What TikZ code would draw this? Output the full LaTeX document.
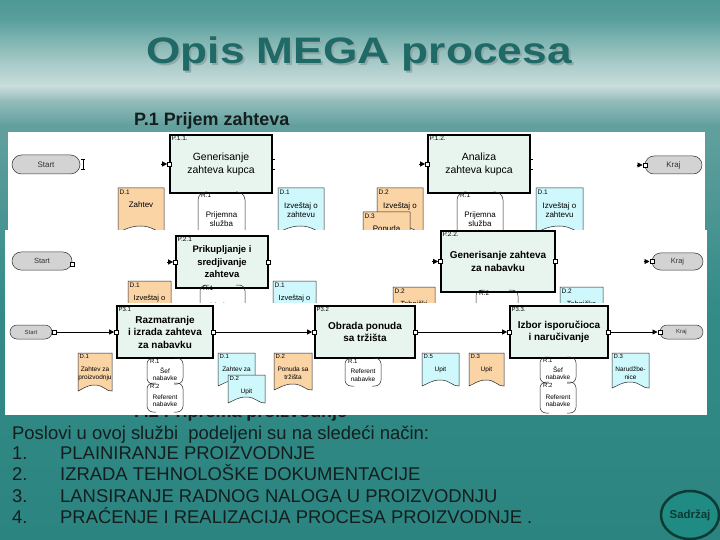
\documentclass[tikz,border=0pt]{standalone}
\usepackage{fontspec}
\setmainfont{Liberation Sans}
\newfontfamily\titlefont[FakeStretch=1.2]{Liberation Sans}
\usetikzlibrary{arrows.meta,shapes.geometric,shapes.misc}

\tikzset{
  procbox/.style={draw=black,line width=1.2bp,fill=procfill},
  idtext/.style={font=\fontsize{6.5}{7}\selectfont},
  doctext/.style={font=\fontsize{7.5}{9}\selectfont},
  docline/.style={draw=black!85,line width=0.5bp},
  resline/.style={draw=black!85,line width=0.5bp,rounded corners=6bp},
  terminal/.style={rounded rectangle,draw=black!80,line width=0.5bp,fill=termfill,text=black!80},
  port/.style={draw=black,fill=white,line width=0.5bp,minimum size=4bp},
  portline/.style={draw=black,line width=0.6bp},
  flow/.style={->,draw=black,line width=0.8bp},
  bodytext/.style={font=\fontsize{18.5}{21}\selectfont,text=slideink},
}

% document symbol: name, x, y, width, height, fill, id, text
\newcommand{\docnode}[8]{%
  \draw[docline,fill=#6] (#2,#3) -- (#2+#4,#3) -- (#2+#4,#3+#5)
    .. controls (#2+0.85*#4,#3+#5+1) and (#2+0.75*#4,#3+#5-6) .. (#2+0.5*#4,#3+#5-6)
    .. controls (#2+0.25*#4,#3+#5-6) and (#2+0.15*#4,#3+#5-2) .. (#2,#3+#5) -- cycle;
  \node[idtext,anchor=north west] (#1-id) at (#2+1.5,#3+1.5) {#7};
  \node[doctext,anchor=north] (#1) at (#2+0.5*#4,#3+14) {#8};}
% resource symbol: name, x, y, width, height, id, text
\newcommand{\resnode}[7]{%
  \draw[resline] (#2+9,#3) -- (#2,#3) -- (#2,#3+#5) -- (#2+9,#3+#5);
  \draw[resline] (#2+#4-9,#3) -- (#2+#4,#3) -- (#2+#4,#3+#5) -- (#2+#4-9,#3+#5);
  \node[idtext,anchor=north west] (#1-id) at (#2+3,#3+1) {#6};
  \node[doctext] (#1) at (#2+0.5*#4,#3+0.5*#5+3) {#7};}
% input port with its arrow tip
\newcommand{\inport}[1]{%
  \node[port] (#1-in) at (#1.west) {};
  \coordinate (#1-a) at ([xshift=-6bp]#1-in.west);
  \draw[->,portline] (#1-a) -- (#1-in);}
\newcommand{\stubmark}[1]{%
  \draw[portline] ([shift={(-2,-5)}]#1) -- ([shift={(2,-5)}]#1)
    ([shift={(0,-5)}]#1) -- ([shift={(0,5)}]#1)
    ([shift={(-2,5)}]#1) -- ([shift={(2,5)}]#1);}

\begin{document}
\begin{tikzpicture}[x=1bp,y=-1bp,every node/.style={inner sep=0,align=center},>={Triangle[length=5bp,width=5bp]}]
\path[use as bounding box] (0,0) rectangle (720,540);
\definecolor{procfill}{HTML}{E8F5EE}
\definecolor{termfill}{HTML}{D3D3D3}
\definecolor{docorange}{HTML}{FBD4A6}
\definecolor{doccyan}{HTML}{CEF8FB}
\definecolor{titleink}{HTML}{1F6A66}
\definecolor{titleshade}{HTML}{8FA8A8}
\definecolor{slideink}{HTML}{141E1E}
\definecolor{buttonfill}{HTML}{1F8B83}
\definecolor{buttonink}{HTML}{0D3A35}
\definecolor{seaA}{HTML}{2B8480}
\definecolor{seaB}{HTML}{348C89}
\definecolor{seaC}{HTML}{62A09E}
\definecolor{seaD}{HTML}{95BEBC}
\definecolor{seaE}{HTML}{CADDDC}
\definecolor{seaF}{HTML}{A3C8C6}
\definecolor{seaG}{HTML}{5A9F9C}
\definecolor{seaH}{HTML}{4E9896}
% sea background in horizontal bands
\foreach \ya/\yb/\ca/\cb in {0/20/seaH/seaG,20/60/seaG/seaF,60/86/seaF/seaE,86/100/seaE/seaD,100/125/seaD/seaC,125/300/seaC/seaB,300/540/seaB/seaA}{
  \shade[top color=\ca,bottom color=\cb] (0,\ya-0.5) rectangle (720,\yb+0.5);
}

% title and headings
\node[font=\titlefont\fontsize{37}{40}\selectfont\bfseries,text=titleshade,anchor=base] (title-sh) at (361,66) {Opis MEGA procesa};
\node[font=\titlefont\fontsize{37}{40}\selectfont\bfseries,text=titleink,anchor=base] (title) at (359,64) {Opis MEGA procesa};
\node[font=\fontsize{18}{20}\selectfont\bfseries,text=slideink,anchor=base west] (sub1) at (134,126) {P.1 Prijem zahteva};
\node[font=\fontsize{18}{20}\selectfont\bfseries,text=slideink,anchor=base west] (sub2) at (134,417) {P.2 Priprema proizvodnje};

% panel 1
\begin{scope}[doctext/.style={font=\fontsize{8}{9.5}\selectfont},resline/.append style={rounded corners=8bp}]
\clip (8,132) rectangle (705,230);
\fill[white] (8,132) rectangle (705,230);
\node[terminal,minimum width=68bp,minimum height=19bp,font=\fontsize{8}{9}\selectfont] (start1) at (46,164.5) {Start};
\coordinate (start1-out) at ([xshift=3bp]start1.east);
\stubmark{start1-out}
\node[procbox,minimum width=102bp,minimum height=58bp,font=\fontsize{10.5}{13}\selectfont] (p11) at (221,164) {Generisanje\\zahteva kupca};
\node[idtext,anchor=north west] (p11-id) at ([shift={(2,1.5)}]p11.north west) {P.1.1.};
\inport{p11}
\stubmark{p11.east}
\node[procbox,minimum width=102bp,minimum height=58bp,font=\fontsize{10.5}{13}\selectfont] (p12) at (479,164) {Analiza\\zahteva kupca};
\node[idtext,anchor=north west] (p12-id) at ([shift={(2,1.5)}]p12.north west) {P.1.2.};
\inport{p12}
\stubmark{p12.east}
\node[terminal,minimum width=57bp,minimum height=18bp,font=\fontsize{8}{9}\selectfont] (kraj1) at (673.5,165) {Kraj};
\inport{kraj1}
\docnode{d11}{118}{188}{46}{44}{docorange}{D.1}{Zahtev}
\resnode{r11}{198}{192}{47}{48}{R.1}{Prijemna\\služba}
\docnode{d12}{278}{188}{46}{44}{doccyan}{D.1}{Izveštaj o\\zahtevu}
\docnode{d13}{377}{188}{46}{44}{docorange}{D.2}{Izveštaj o}
\docnode{d14}{363}{212}{47}{40}{docorange}{D.3}{Ponuda}
\resnode{r12}{457}{192}{46}{48}{R.1}{Prijemna\\služba}
\docnode{d15}{536}{188}{47}{44}{doccyan}{D.1}{Izveštaj o\\zahtevu}
\end{scope}

% panel 2
\begin{scope}[doctext/.style={font=\fontsize{7.5}{9}\selectfont}]
\clip (5,230) rectangle (707,303);
\fill[white] (5,230) rectangle (707,303);
\node[terminal,minimum width=60bp,minimum height=18bp,font=\fontsize{7.5}{9}\selectfont] (start2) at (42,261) {Start};
\node[port] (start2-out) at (72,264) {};
\node[procbox,minimum width=92bp,minimum height=52bp,font=\fontsize{9.5}{12.5}\selectfont\bfseries] (p21) at (222,262) {Prikupljanje i\\sredjivanje\\zahteva};
\node[idtext,anchor=north west] (p21-id) at ([shift={(2,1.5)}]p21.north west) {P.2.1};
\inport{p21}
\node[port] (p21-out) at (p21.east) {};
\node[procbox,minimum width=114bp,minimum height=61bp,font=\fontsize{10}{12.5}\selectfont\bfseries] (p22) at (498,261.5) {Generisanje zahteva\\za nabavku};
\node[idtext,anchor=north west] (p22-id) at ([shift={(2,1.5)}]p22.north west) {P.2.2.};
\inport{p22}
\node[port] (p22-out) at (p22.east) {};
\node[terminal,minimum width=51bp,minimum height=17bp,font=\fontsize{7.5}{9}\selectfont] (kraj2) at (677.5,261.5) {Kraj};
\inport{kraj2}
\docnode{d21}{128}{281}{43}{40}{docorange}{D.1}{Izveštaj o}
\resnode{r21}{200}{285}{45}{36}{R.1}{Direktor}
\docnode{d22}{273}{281}{43}{40}{doccyan}{D.1}{Izveštaj o}
\docnode{d23}{393}{287}{42}{40}{docorange}{D.2}{Tehnički}
\resnode{r22}{476}{290}{42}{36}{R.2}{Referent}
\docnode{d24}{560}{287}{43}{40}{doccyan}{D.2}{Tehnička}
\end{scope}

% panel 3
\begin{scope}[doctext/.style={font=\fontsize{6.5}{7.5}\selectfont},idtext/.style={font=\fontsize{6}{7}\selectfont}]
\clip (5,303) rectangle (707,415);
\fill[white] (5,303) rectangle (707,415);
\node[terminal,minimum width=42bp,minimum height=14bp,font=\fontsize{6}{7}\selectfont] (start3) at (31,332) {Start};
\node[port] (start3-out) at ([xshift=2bp]start3.east) {};
\foreach \name/\cx/\w/\txt in {p31/165/96/{Razmatranje\\i izrada zahteva\\za nabavku},p32/365/100/{Obrada ponuda\\sa tržišta},p33/559/98/{Izbor isporučioca\\i naručivanje}}{
  \node[procbox,minimum width=\w bp,minimum height=52bp,font=\fontsize{10}{12.5}\selectfont\bfseries] (\name) at (\cx,332) {\txt};
  \node[port] (\name-in) at (\name.west) {};
  \node[port] (\name-out) at (\name.east) {};
}
\node[idtext,anchor=north west] (p31-id) at ([shift={(2,1.5)}]p31.north west) {P3.1};
\node[idtext,anchor=north west] (p32-id) at ([shift={(2,1.5)}]p32.north west) {P3.2};
\node[idtext,anchor=north west] (p33-id) at ([shift={(2,1.5)}]p33.north west) {P3.3.};
\node[terminal,minimum width=43bp,minimum height=14bp,font=\fontsize{6}{7}\selectfont] (kraj3) at (681.5,332) {Kraj};
\node[port] (kraj3-in) at (kraj3.west) {};
\draw[flow] (start3-out) -- (p31-in);
\draw[flow] (p31-out) -- (p32-in);
\draw[flow] (p32-out) -- (p33-in);
\draw[flow] (p33-out) -- (kraj3-in);
\docnode{d31}{78}{353}{34}{38}{docorange}{D.1}{Zahtev za\\proizvodnju}
\resnode{r31}{147}{358}{36}{26}{R.1}{Šef\\nabavke}
\resnode{r32}{147}{383}{36}{29}{R.2}{Referent\\nabavke}
\docnode{d32}{218}{353}{37}{33}{doccyan}{D.1}{Zahtev za}
\docnode{d33}{228}{375}{37}{28}{doccyan}{D.2}{Upit}
\docnode{d34}{274}{353}{38}{37}{docorange}{D.2}{Ponuda sa\\tržišta}
\resnode{r33}{345}{358}{36}{28}{R.1}{Referent\\nabavke}
\docnode{d35}{422}{353}{37}{33}{doccyan}{D.5}{Upit}
\docnode{d36}{469}{353}{35}{33}{docorange}{D.3}{Upit}
\resnode{r34}{540}{357}{36}{26}{R.1}{Šef\\nabavke}
\resnode{r35}{540}{382}{36}{31}{R.2}{Referent\\nabavke}
\docnode{d37}{612}{353}{37}{35}{doccyan}{D.3}{Narudžbe-\\nice}
\end{scope}

% text below the panels
\node[bodytext,anchor=base west] (intro) at (12,439) {Poslovi u ovoj službi\ \ podeljeni su na sledeći način:};
\foreach \t [count=\i] in {PLAINIRANJE PROIZVODNJE,IZRADA TEHNOLOŠKE DOKUMENTACIJE,LANSIRANJE RADNOG NALOGA U PROIZVODNJU,PRAĆENJE I REALIZACIJA PROCESA PROIZVODNJE .}{
  \node[bodytext,anchor=base west] (num\i) at (12,438.5+21.2*\i) {\i.};
  \node[bodytext,anchor=base west] (item\i) at (60,438.5+21.2*\i) {\t};
}
\node[ellipse,draw=buttonink,line width=2.5bp,fill=buttonfill,minimum width=58bp,minimum height=48bp,font=\fontsize{11.5}{12}\selectfont\bfseries,text=buttonink] (contents) at (690,515) {Sadržaj};
\end{tikzpicture}
\end{document}
